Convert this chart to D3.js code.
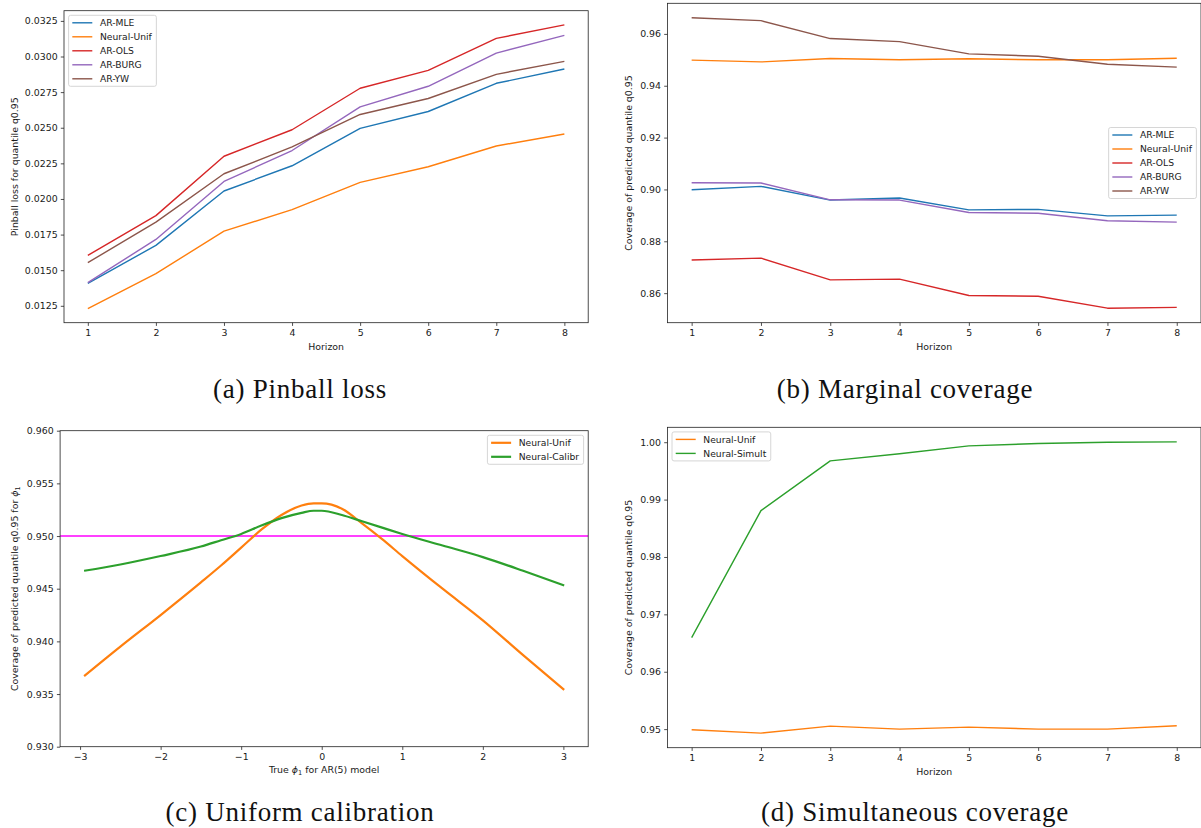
<html>
<head>
<meta charset="utf-8">
<script src="https://d3js.org/d3.v7.min.js"></script>
<style>
  body { margin: 0; background: #fff; }
  .tick text, .lab { font-family: 'DejaVu Sans', sans-serif; font-size: 9.4px; fill: #1a1a1a; }
  .leg { font-family: 'DejaVu Sans', sans-serif; font-size: 9.2px; fill: #1a1a1a; }
  .cap { font-family: 'Liberation Serif', serif; font-size: 27px; letter-spacing: 0.75px; fill: #111; }
</style>
</head>
<body>
<script>
  // values
  var horizons = [1, 2, 3, 4, 5, 6, 7, 8];

  // (a) pinball loss
  var pinballMLE    = [0.01408, 0.01674, 0.02056, 0.02233, 0.02496, 0.02614, 0.02812, 0.02912];
  var pinballNeural = [0.01231, 0.01476, 0.01774, 0.01925, 0.02116, 0.02226, 0.02372, 0.02456];
  var pinballOLS    = [0.01604, 0.01883, 0.02300, 0.02486, 0.02777, 0.02903, 0.03127, 0.03222];
  var pinballBURG   = [0.01413, 0.01716, 0.02123, 0.02340, 0.02647, 0.02791, 0.03024, 0.03148];
  var pinballYW     = [0.01553, 0.01837, 0.02177, 0.02365, 0.02593, 0.02705, 0.02875, 0.02966];

  // (b) marginal coverage
  var covMLE    = [0.8999, 0.9012, 0.8959, 0.8967, 0.8921, 0.8923, 0.8898, 0.8901];
  var covNeural = [0.9499, 0.9492, 0.9505, 0.9500, 0.9504, 0.9500, 0.9500, 0.9506];
  var covOLS    = [0.8728, 0.8735, 0.8651, 0.8654, 0.8591, 0.8588, 0.8542, 0.8545];
  var covBURG   = [0.9026, 0.9025, 0.8960, 0.8959, 0.8911, 0.8908, 0.8879, 0.8874];
  var covYW     = [0.9662, 0.9651, 0.9582, 0.9570, 0.9523, 0.9514, 0.9483, 0.9472];

  // (c) uniform calibration over true phi_1
  var phiValues   = [-2.95, -2.5, -2, -1.5, -1.25, -1, -0.75, -0.5, -0.25, -0.1, 0, 0.25, 0.5, 0.75, 1, 1.5, 2, 2.5, 3.01];
  var calibUnif   = [0.9367, 0.9395, 0.9425, 0.9456, 0.9472, 0.9489, 0.9506, 0.9520, 0.9529, 0.9531, 0.9531, 0.9526, 0.9512, 0.9497, 0.9481, 0.9450, 0.9420, 0.9387, 0.9354];
  var calibCalibr = [0.9467, 0.9473, 0.9481, 0.9490, 0.9496, 0.9502, 0.9510, 0.9517, 0.9522, 0.9524, 0.9524, 0.9520, 0.9514, 0.9508, 0.9502, 0.9491, 0.9480, 0.9467, 0.9453];
  var targetLevel = 0.95;

  // (d) simultaneous coverage
  var simultNeural = [0.94988, 0.94930, 0.95052, 0.95000, 0.95035, 0.95000, 0.95000, 0.95058];
  var simultSimult = [0.96595, 0.98807, 0.99674, 0.99800, 0.99936, 0.99977, 1.00000, 1.00006];

  var blue = '#1f77b4', orange = '#ff7f0e', green = '#2ca02c', red = '#d62728', purple = '#9467bd', brown = '#8c564b';

  var svg = d3.select('body').append('svg')
    .attr('width', 1201).attr('height', 828);

  function padded(vals) {
    var e = d3.extent(vals), d = (e[1] - e[0]) * 0.05;
    return [e[0] - d, e[1] + d];
  }

  var clipId = 0;
  function panel(o) {
    var g = svg.append('g');
    var x = d3.scaleLinear().domain(o.xDomain).range([o.left, o.right]);
    var y = d3.scaleLinear().domain(o.yDomain).range([o.bottom, o.top]);

    var cid = 'clip' + (clipId++);
    g.append('clipPath').attr('id', cid).append('rect')
      .attr('x', o.left).attr('y', o.top)
      .attr('width', o.right - o.left).attr('height', o.bottom - o.top);

    var plot = g.append('g').attr('clip-path', 'url(#' + cid + ')');

    if (o.hline != null) {
      plot.append('line')
        .attr('x1', o.left).attr('x2', o.right)
        .attr('y1', y(o.hline)).attr('y2', y(o.hline))
        .attr('stroke', '#ff00ff').attr('stroke-width', 1.6);
    }

    var line = d3.line()
      .x(function (d) { return x(d[0]); })
      .y(function (d) { return y(d[1]); })
      .curve(o.curve || d3.curveLinear);

    o.series.forEach(function (s) {
      plot.append('path')
        .datum(d3.zip(o.xs, s.values))
        .attr('fill', 'none')
        .attr('stroke', s.color)
        .attr('stroke-width', o.lineWidth)
        .attr('stroke-linejoin', 'round')
        .attr('d', line);
    });

    // axes
    var xAxis = g.append('g').attr('transform', 'translate(0,' + o.bottom + ')')
      .call(d3.axisBottom(x).tickValues(o.xTicks).tickSize(3.2).tickPadding(3.2).tickFormat(o.xFormat));
    var yAxis = g.append('g').attr('transform', 'translate(' + o.left + ',0)')
      .call(d3.axisLeft(y).tickValues(o.yTicks).tickSize(3.2).tickPadding(3.2).tickFormat(o.yFormat));
    [xAxis, yAxis].forEach(function (a) {
      a.select('.domain').remove();
      a.selectAll('.tick line').attr('stroke', '#222').attr('stroke-width', 0.8);
    });

    g.append('rect')
      .attr('x', o.left).attr('y', o.top)
      .attr('width', o.right - o.left).attr('height', o.bottom - o.top)
      .attr('fill', 'none').attr('stroke', '#222').attr('stroke-width', 0.8);

    // axis labels
    var xl = g.append('text').attr('class', 'lab')
      .attr('x', (o.left + o.right) / 2).attr('y', o.xLabelY)
      .attr('text-anchor', 'middle');
    o.xLabel(xl);

    var yl = g.append('text').attr('class', 'lab')
      .attr('transform', 'translate(' + o.yLabelX + ',' + ((o.top + o.bottom) / 2) + ') rotate(-90)')
      .attr('text-anchor', 'middle').attr('dy', '0.35em');
    o.yLabel(yl);

    // legend
    var rowH = 14, padV = 7.5;
    var lg = g.append('g');
    var box = lg.append('rect')
      .attr('fill', 'white').attr('fill-opacity', 0.8)
      .attr('stroke', '#cccccc').attr('stroke-width', 0.8).attr('rx', 2);
    var maxW = 0;
    o.series.forEach(function (s, i) {
      var cy = padV + i * rowH;
      lg.append('line').attr('x1', 3.7).attr('x2', 23.7).attr('y1', cy).attr('y2', cy)
        .attr('stroke', s.color).attr('stroke-width', o.lineWidth);
      var t = lg.append('text').attr('class', 'leg').attr('x', 31.3).attr('y', cy).attr('dy', '0.35em').text(s.name);
      maxW = Math.max(maxW, t.node().getComputedTextLength());
    });
    var bw = 31.3 + maxW + 4.5, bh = padV * 2 + (o.series.length - 1) * rowH;
    box.attr('width', bw).attr('height', bh);
    var lx, ly, pad = 4.6;
    if (o.legend === 'upper left') { lx = o.left + pad; ly = o.top + pad; }
    else if (o.legend === 'upper right') { lx = o.right - pad - bw; ly = o.top + pad; }
    else { lx = o.right - pad - bw; ly = (o.top + o.bottom) / 2 - bh / 2; }
    lg.attr('transform', 'translate(' + lx + ',' + ly + ')');

    svg.append('text').attr('class', 'cap')
      .attr('x', o.capX).attr('y', o.capY).attr('text-anchor', 'middle')
      .text(o.caption);
  }

  function plain(str) { return function (t) { t.text(str); }; }
  var intFmt = d3.format('d');
  var minusFmt = function (d) { return d < 0 ? '\u2212' + Math.abs(d) : String(d); };

  var arSeries = function (mle, neural, ols, burg, yw) {
    return [
      { name: 'AR-MLE', color: blue, values: mle },
      { name: 'Neural-Unif', color: orange, values: neural },
      { name: 'AR-OLS', color: red, values: ols },
      { name: 'AR-BURG', color: purple, values: burg },
      { name: 'AR-YW', color: brown, values: yw }
    ];
  };

  // (a)
  panel({
    left: 64, right: 588.2, top: 10.7, bottom: 322.7,
    xs: horizons, xDomain: padded(horizons),
    yDomain: padded(pinballMLE.concat(pinballNeural, pinballOLS, pinballBURG, pinballYW)),
    xTicks: horizons, xFormat: intFmt,
    yTicks: d3.range(0.0125, 0.0326, 0.0025), yFormat: d3.format('.4f'),
    series: arSeries(pinballMLE, pinballNeural, pinballOLS, pinballBURG, pinballYW),
    lineWidth: 1.4, legend: 'upper left',
    xLabel: plain('Horizon'), xLabelY: 350,
    yLabel: plain('Pinball loss for quantile q0.95'), yLabelX: 15,
    caption: '(a) Pinball loss', capX: 300, capY: 397.5
  });

  // (b)
  panel({
    left: 667.4, right: 1201, top: 3.3, bottom: 322.7,
    xs: horizons, xDomain: padded(horizons),
    yDomain: padded(covMLE.concat(covNeural, covOLS, covBURG, covYW)),
    xTicks: horizons, xFormat: intFmt,
    yTicks: d3.range(0.86, 0.961, 0.02), yFormat: d3.format('.2f'),
    series: arSeries(covMLE, covNeural, covOLS, covBURG, covYW),
    lineWidth: 1.4, legend: 'center right',
    xLabel: plain('Horizon'), xLabelY: 350,
    yLabel: plain('Coverage of predicted quantile q0.95'), yLabelX: 629,
    caption: '(b) Marginal coverage', capX: 905, capY: 397.5
  });

  // (c)
  panel({
    left: 60.1, right: 588.2, top: 430.7, bottom: 746.7,
    xs: phiValues, xDomain: padded(phiValues),
    yDomain: [0.930, 0.960],
    xTicks: [-3, -2, -1, 0, 1, 2, 3], xFormat: minusFmt,
    yTicks: d3.range(0.930, 0.9601, 0.005), yFormat: d3.format('.3f'),
    series: [
      { name: 'Neural-Unif', color: orange, values: calibUnif },
      { name: 'Neural-Calibr', color: green, values: calibCalibr }
    ],
    hline: targetLevel, curve: d3.curveMonotoneX,
    lineWidth: 2.2, legend: 'upper right',
    xLabel: function (t) {
      t.append('tspan').text('True ');
      t.append('tspan').style('font-style', 'italic').text('\u03d5');
      t.append('tspan').attr('font-size', '6.6px').attr('dy', '2').text('1');
      t.append('tspan').attr('dy', '-2').text(' for AR(5) model');
    }, xLabelY: 773,
    yLabel: function (t) {
      t.append('tspan').text('Coverage of predicted quantile q0.95 for ');
      t.append('tspan').style('font-style', 'italic').text('\u03d5');
      t.append('tspan').attr('font-size', '6.6px').attr('dy', '2').text('1');
    }, yLabelX: 15,
    caption: '(c) Uniform calibration', capX: 300, capY: 820.5
  });

  // (d)
  panel({
    left: 667.4, right: 1201, top: 427.3, bottom: 747.7,
    xs: horizons, xDomain: padded(horizons),
    yDomain: padded(simultNeural.concat(simultSimult)),
    xTicks: horizons, xFormat: intFmt,
    yTicks: d3.range(0.95, 1.001, 0.01), yFormat: d3.format('.2f'),
    series: [
      { name: 'Neural-Unif', color: orange, values: simultNeural },
      { name: 'Neural-Simult', color: green, values: simultSimult }
    ],
    lineWidth: 1.4, legend: 'upper left',
    xLabel: plain('Horizon'), xLabelY: 775,
    yLabel: plain('Coverage of predicted quantile q0.95'), yLabelX: 629,
    caption: '(d) Simultaneous coverage', capX: 915, capY: 820.5
  });
</script>
</body>
</html>
